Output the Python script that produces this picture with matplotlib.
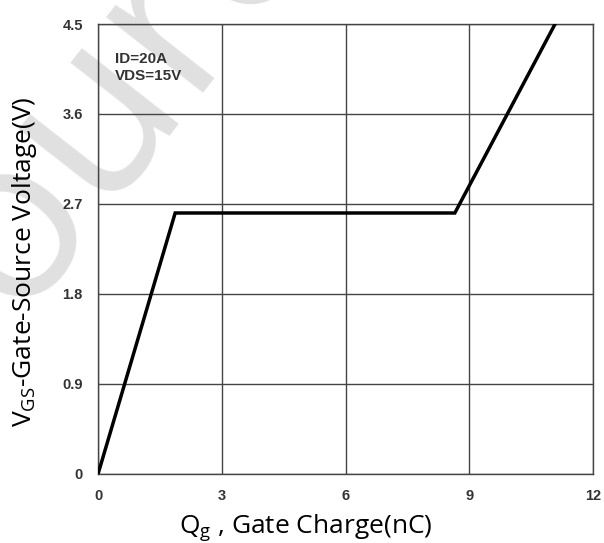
import matplotlib.pyplot as plt
import numpy as np

# gate charge curve (Qg in nC, Vgs in V)
qg = [0, 1.87, 8.65, 11.08]
vgs = [0, 2.61, 2.61, 4.5]

x_ticks = [0, 3, 6, 9, 12]
y_ticks = [0, 0.9, 1.8, 2.7, 3.6, 4.5]
y_tick_labels = ['0', '0.9', '1.8', '2.7', '3.6', '4.5']

fig = plt.figure(figsize=(6.04, 5.43), dpi=100)
ax = fig.add_axes([0.1623, 0.1271, 0.8195, 0.8287])

ax.plot(qg, vgs, color='black', linewidth=2.5, solid_joinstyle='miter', zorder=4)

ax.set_xlim(0, 12)
ax.set_ylim(0, 4.5)
ax.set_xticks(x_ticks)
ax.set_yticks(y_ticks)
ax.set_xticklabels([str(t) for t in x_ticks], fontfamily='Liberation Sans',
                   fontweight='bold', fontsize=10.5, color='#333333')
ax.set_yticklabels(y_tick_labels, fontfamily='Liberation Sans',
                   fontweight='bold', fontsize=10.5, color='#333333')
ax.tick_params(length=0, pad=11)
ax.grid(color='#444444', linewidth=1.0)
for s in ax.spines.values():
    s.set_color('#444444')
    s.set_linewidth(1.0)

ax.text(0.034, 0.938, 'ID=20A\nVDS=15V', transform=ax.transAxes, va='top', ha='left',
        fontfamily='Liberation Sans', fontweight='bold', fontsize=11, color='#333333',
        linespacing=1.25, zorder=5)

ax.set_xlabel(r'Q$_\mathregular{g}$ , Gate Charge(nC)', fontfamily='Open Sans',
              fontsize=19)
ax.set_ylabel(r'V$_\mathregular{GS}$-Gate-Source Voltage(V)', fontfamily='Open Sans',
              fontsize=19)
ax.xaxis.set_label_coords(0.42, -0.085)
ax.yaxis.set_label_coords(-0.12, 0.471)

# watermark
ax.text(0.195, 0.835, 'Source', transform=fig.transFigure, fontsize=165, rotation=52,
        color='#d6d6d6', alpha=0.75, ha='center', va='center', fontfamily='Open Sans',
        zorder=1, clip_on=False)

fig.savefig('out.png', dpi=100)
